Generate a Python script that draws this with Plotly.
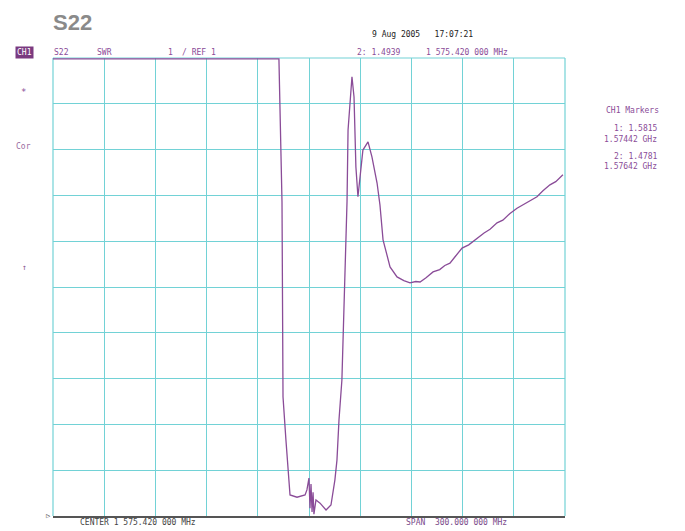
import plotly.graph_objects as go

# Frequency (MHz) and SWR
freq_mhz = [1425.42, 1557.8, 1559.6, 1560.2, 1561.9, 1563.1, 1564.3, 1568.4, 1573.1,
            1574.2, 1575.4, 1576.0, 1576.6, 1577.2, 1577.8, 1578.3, 1579.5, 1581.9,
            1585.4, 1588.3, 1590.6, 1591.8, 1593.0, 1594.7, 1595.9, 1597.1, 1597.7,
            1598.3, 1599.4, 1600.6, 1601.8, 1602.4, 1602.9, 1604.1, 1605.3, 1607.0,
            1610.0, 1611.1, 1612.3, 1615.3, 1617.0, 1618.8, 1622.9, 1627.0, 1631.0,
            1634.6, 1638.0, 1640.5, 1644.0, 1648.1, 1652.0, 1655.0, 1658.0, 1661.0,
            1665.1, 1669.0, 1673.9, 1678.0, 1681.5, 1685.6, 1689.0, 1693.0, 1697.3,
            1701.0, 1705.0, 1709.0, 1712.5, 1716.6, 1720.0, 1724.2]
swr = [10.98, 10.98, 7.86, 3.60, 2.66, 2.00, 1.46, 1.41, 1.46,
       1.57, 1.83, 1.17, 1.70, 1.09, 1.52, 1.04, 1.35, 1.28,
       1.13, 1.24, 1.79, 2.22, 3.10, 3.97, 5.72, 7.03, 7.86,
       9.43, 10.08, 10.59, 10.15, 9.43, 8.62, 7.97, 8.34, 8.99,
       9.17, 9.03, 8.84, 8.27, 7.79, 7.03, 6.44, 6.22, 6.14,
       6.09, 6.12, 6.11, 6.20, 6.33, 6.38, 6.47, 6.52, 6.66,
       6.85, 6.92, 7.07, 7.18, 7.26, 7.40, 7.46, 7.60, 7.72,
       7.80, 7.90, 7.97, 8.10, 8.23, 8.30, 8.45]

center_mhz = 1575.42
span_mhz = 300.0
ref_swr = 1
scale_swr = 1

x_min = center_mhz - span_mhz / 2
x_max = center_mhz + span_mhz / 2
y_min = ref_swr
y_max = ref_swr + 10 * scale_swr

grid = "#72d2d6"
purple = "#8a4c98"
mono = "DejaVu Sans Mono"

fig = go.Figure()
fig.add_trace(go.Scatter(x=freq_mhz, y=swr, mode="lines",
                         line=dict(color=purple, width=1.3), hoverinfo="skip"))

# page has an 8px body offset; figure sized to compensate
fig.update_layout(
    width=677, height=523,
    margin=dict(l=45, r=120, t=50, b=15),
    paper_bgcolor="white", plot_bgcolor="white",
    showlegend=False,
    xaxis=dict(range=[x_min, x_max], tick0=x_min, dtick=span_mhz / 10,
               showticklabels=False, showgrid=True, gridcolor=grid, gridwidth=1,
               zeroline=False, showline=True, linecolor="#555555", linewidth=1.5,
               ticks=""),
    yaxis=dict(range=[y_min, y_max], tick0=y_min, dtick=scale_swr,
               showticklabels=False, showgrid=True, gridcolor=grid, gridwidth=1,
               zeroline=False, showline=False, ticks=""),
)

# borders (left, right, top) in grid colour
for x0, y0, x1, y1 in [(0, 0, 0, 1), (1, 0, 1, 1), (0, 1, 1, 1)]:
    fig.add_shape(type="line", xref="paper", yref="paper", x0=x0, y0=y0, x1=x1, y1=y1,
                  line=dict(color=grid, width=1.2), layer="below")

W, H = 512.0, 458.0
def px(x):
    return (x - 53) / W
def py(y):
    return (516 - y) / H

def txt(t, x, y, color=purple, size=8, anchor="left", **kw):
    fig.add_annotation(text=t, xref="paper", yref="paper", x=px(x), y=py(y),
                       xanchor=anchor, yanchor="middle", showarrow=False,
                       font=dict(family=mono, size=size, color=color), **kw)

fig.add_annotation(text="<b>S22</b>", xref="paper", yref="paper", x=px(51), y=py(22),
                   xanchor="left", yanchor="middle", showarrow=False,
                   font=dict(family="Liberation Sans", size=22, color="#8a8a8a"))

txt("9 Aug 2005   17:07:21", 370, 34, color="#222222")
txt("CH1", 15, 52, color="white", size=8, bgcolor="#7a3a80", borderpad=1)
txt("S22", 52, 52)
txt("SWR", 95, 52)
txt("1", 166, 52)
txt("/ REF 1", 180, 52)
txt("2: 1.4939", 355, 52)
txt("1 575.420 000 MHz", 424, 52)

txt("*", 19, 92, size=9)
txt("Cor", 14, 146, color="#9a6aa0")
txt("\u2191", 20, 267, color="#8a5a90")
txt("\u25b7", 44, 516, color="#555555", size=7)

txt("CH1 Markers", 632, 110, anchor="center")
txt("1: 1.5815", 636, 128, anchor="center")
txt("1.57442 GHz", 630, 139, anchor="center")
txt("2: 1.4781", 636, 156, anchor="center")
txt("1.57642 GHz", 630, 166, anchor="center")

txt("CENTER 1 575.420 000 MHz", 78, 522, color="#444444")
txt("SPAN  300.000 000 MHz", 404, 522, color="#7a4a8a")

fig.write_html("out.html")
